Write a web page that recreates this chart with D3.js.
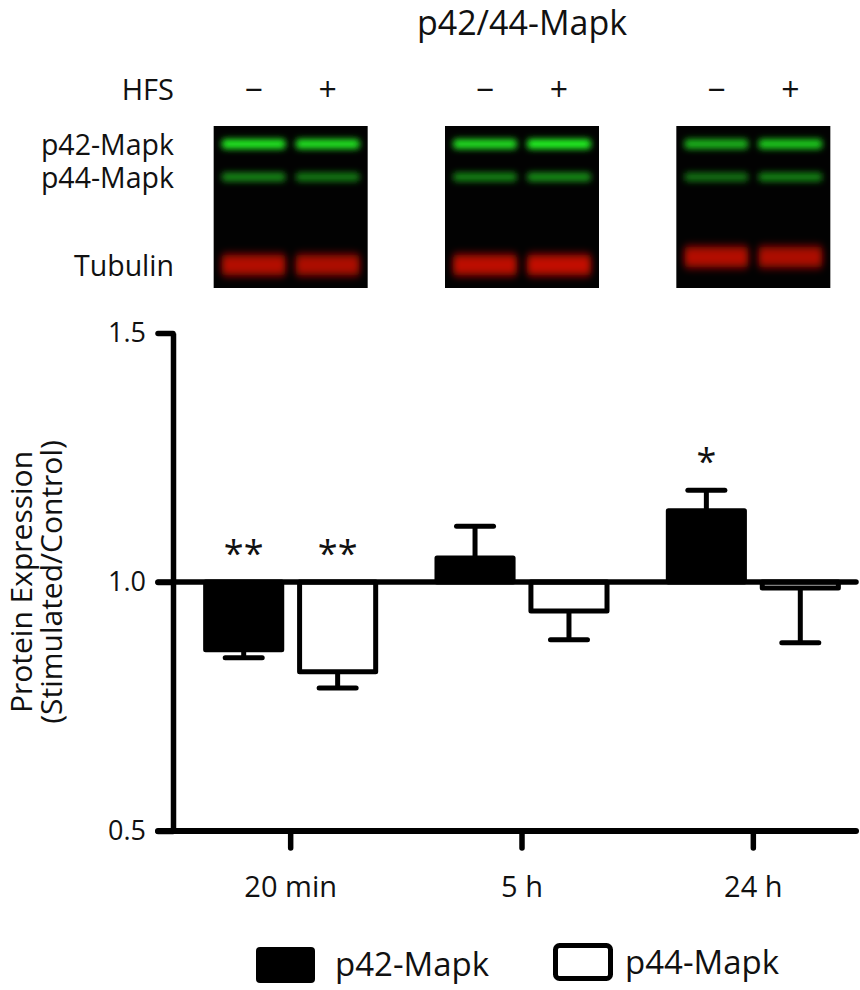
<!DOCTYPE html>
<html>
<head>
<meta charset="utf-8">
<script src="https://d3js.org/d3.v7.min.js"></script>
<style>
    body { margin: 0; background: #fff; }
    svg text { font-family: "Open Sans", sans-serif; fill: #111; }
</style>
</head>
<body>
<div id="chart"></div>
<script>

// ---- data ----
let timepoints = ["20 min", "5 h", "24 h"];
let series = ["p42-Mapk", "p44-Mapk"];
let p42Mean = [0.864, 1.048, 1.143];
let p42Sem = [0.016, 0.064, 0.041];
let p44Mean = [0.820, 0.942, 0.988];
let p44Sem = [0.033, 0.058, 0.110];
let p42Stars = ["**", "", "*"];
let p44Stars = ["**", "", ""];
let yTicks = [0.5, 1.0, 1.5];

// blot: HFS lanes and relative band intensities (lane order: 20min -, +, 5h -, +, 24h -, +)
let hfsLanes = ["\u2212", "+"];
let blotBands = ["p42-Mapk", "p44-Mapk", "Tubulin"];
let p42Band = [0.95, 0.92, 0.9, 1.0, 0.72, 0.82];
let p44Band = [0.62, 0.56, 0.6, 0.66, 0.52, 0.6];
let tubulinBand = [0.85, 0.82, 0.9, 0.92, 0.85, 0.82];


class BlotBarVis {

    constructor(parentElement) {
        this.parentElement = parentElement;
        this.initVis();
    }

    initVis() {
        let vis = this;

        vis.width = 860;
        vis.height = 990;

        vis.svg = d3.select("#" + vis.parentElement).append("svg")
                    .attr("width", vis.width)
                    .attr("height", vis.height);

        // soft edges for the blot bands
        vis.defs = vis.svg.append("defs");
        vis.defs.append("filter")
            .attr("id", "greenBlur")
            .attr("x", "-50%").attr("y", "-300%")
            .attr("width", "200%").attr("height", "700%")
            .append("feGaussianBlur")
            .attr("stdDeviation", "3 3");
        vis.defs.append("filter")
            .attr("id", "redBlur")
            .attr("x", "-50%").attr("y", "-200%")
            .attr("width", "200%").attr("height", "500%")
            .append("feGaussianBlur")
            .attr("stdDeviation", "3.5 4.5");

        // scales
        vis.x0 = d3.scaleBand()
                    .domain(timepoints)
                    .range([175, 869])
                    .paddingInner(0.265)
                    .paddingOuter(0.1325);

        vis.x1 = d3.scaleBand()
                    .domain(series)
                    .range([0, vis.x0.bandwidth()])
                    .paddingInner(0.19);

        vis.y = d3.scaleLinear()
                    .domain([0.5, 1.5])
                    .range([831, 333]);

        vis.color = d3.scaleOrdinal().domain(series).range(["#000", "#fff"]);

        // lanes inside each blot panel
        vis.lane = d3.scaleBand().domain(hfsLanes).range([-74, 74]);
        vis.bandY = d3.scaleOrdinal().domain(blotBands).range([144, 177, 265]);
        vis.bandColor = d3.scaleOrdinal().domain(blotBands).range(["#22f522", "#22d822", "#d20a04"]);
        vis.bandH = d3.scaleOrdinal().domain(blotBands).range([10, 9, 21]);
        vis.bandFilter = d3.scaleOrdinal().domain(blotBands).range(["greenBlur", "greenBlur", "redBlur"]);

        vis.wrangleData();
    }

    wrangleData() {
        let vis = this;

        vis.displayData = timepoints.map((t, i) => ({
            time: t,
            values: [
                {key: series[0], mean: p42Mean[i], sem: p42Sem[i], stars: p42Stars[i]},
                {key: series[1], mean: p44Mean[i], sem: p44Sem[i], stars: p44Stars[i]}
            ]
        }));

        let bandValues = [p42Band, p44Band, tubulinBand];
        vis.blotData = timepoints.map((t, i) => ({
            time: t,
            bands: hfsLanes.flatMap((l, j) => blotBands.map((b, k) => ({
                lane: l, band: b, value: bandValues[k][i * 2 + j]
            })))
        }));

        vis.updateVis();
    }

    updateVis() {
        let vis = this;

        // title + HFS row
        vis.svg.append("text")
            .attr("x", vis.x0(timepoints[1]) + vis.x0.bandwidth() / 2)
            .attr("y", 35)
            .attr("text-anchor", "middle")
            .style("font-size", "34px")
            .text("p42/44-Mapk");

        vis.svg.append("text")
            .attr("x", 174).attr("y", 100)
            .attr("text-anchor", "end")
            .style("font-size", "29px")
            .text("HFS");

        // blot panels
        let panels = vis.svg.selectAll(".blot")
                        .data(vis.blotData)
                        .enter().append("g")
                        .attr("class", "blot")
                        .attr("transform", d => `translate(${vis.x0(d.time) + vis.x0.bandwidth() / 2},0)`);

        panels.append("clipPath")
            .attr("id", (d, i) => "clip" + i)
            .append("rect")
            .attr("x", -77).attr("y", 126)
            .attr("width", 154).attr("height", 162);

        panels.append("rect")
            .attr("x", -77).attr("y", 126)
            .attr("width", 154).attr("height", 162)
            .attr("fill", "#020202");

        panels.selectAll(".sign")
            .data(hfsLanes)
            .enter().append("text")
            .attr("class", "sign")
            .attr("x", d => vis.lane(d) + vis.lane.bandwidth() / 2)
            .attr("y", 101)
            .attr("text-anchor", "middle")
            .style("font-size", "32px")
            .text(d => d);

        panels.append("g")
            .attr("clip-path", (d, i) => `url(#clip${i})`)
            .selectAll(".band")
            .data(d => d.bands.map(b => Object.assign({shift: d.time === "24 h" && b.band === "Tubulin" ? -8 : 0}, b)))
            .enter().append("rect")
            .attr("class", "band")
            .attr("x", d => vis.lane(d.lane) + vis.lane.bandwidth() / 2 - 32)
            .attr("y", d => vis.bandY(d.band) + d.shift - vis.bandH(d.band) / 2)
            .attr("width", 64)
            .attr("height", d => vis.bandH(d.band))
            .attr("rx", 4)
            .attr("fill", d => vis.bandColor(d.band))
            .attr("fill-opacity", d => d.value)
            .attr("filter", d => `url(#${vis.bandFilter(d.band)})`);

        vis.svg.selectAll(".blot-label")
            .data(blotBands)
            .enter().append("text")
            .attr("class", "blot-label")
            .attr("x", 174)
            .attr("y", d => vis.bandY(d) + 11)
            .attr("text-anchor", "end")
            .style("font-size", "28.5px")
            .text(d => d);

        // bars
        let groups = vis.svg.selectAll(".group")
                        .data(vis.displayData)
                        .enter().append("g")
                        .attr("class", "group")
                        .attr("transform", d => `translate(${vis.x0(d.time)},0)`);

        let cells = groups.selectAll(".cell")
                        .data(d => d.values)
                        .enter().append("g")
                        .attr("class", "cell")
                        .attr("transform", d => `translate(${vis.x1(d.key) + vis.x1.bandwidth() / 2},0)`);

        let errEnd = d => d.mean >= 1 ? d.mean + d.sem : d.mean - d.sem;

        cells.append("line")
            .attr("x1", 0).attr("x2", 0)
            .attr("y1", d => vis.y(d.mean))
            .attr("y2", d => vis.y(errEnd(d)))
            .attr("stroke", "#000").attr("stroke-width", 5);

        cells.append("line")
            .attr("x1", -18.5).attr("x2", 18.5)
            .attr("y1", d => vis.y(errEnd(d)))
            .attr("y2", d => vis.y(errEnd(d)))
            .attr("stroke", "#000").attr("stroke-width", 5)
            .attr("stroke-linecap", "round");

        cells.append("rect")
            .attr("x", -vis.x1.bandwidth() / 2)
            .attr("width", vis.x1.bandwidth())
            .attr("y", d => vis.y(Math.max(1, d.mean)))
            .attr("height", d => Math.abs(vis.y(d.mean) - vis.y(1)))
            .attr("fill", d => vis.color(d.key))
            .attr("stroke", "#000")
            .attr("stroke-width", 5)
            .attr("stroke-linejoin", "round");

        cells.append("text")
            .attr("x", 0)
            .attr("y", d => vis.y(Math.max(1, errEnd(d))) - 35 + 19)
            .attr("text-anchor", "middle")
            .style("font-size", "36px")
            .text(d => d.stars);

        // axes
        vis.yAxis = d3.axisLeft(vis.y)
                        .tickValues(yTicks)
                        .tickFormat(d3.format(".1f"))
                        .tickSize(15)
                        .tickSizeOuter(0)
                        .tickPadding(12);

        vis.yAxisGroup = vis.svg.append("g")
                            .attr("class", "y-axis")
                            .attr("transform", "translate(173,0)")
                            .call(vis.yAxis);

        vis.yAxisGroup.select(".domain").attr("stroke-width", 5.5);
        vis.yAxisGroup.selectAll(".tick line").attr("stroke-width", 5.5).attr("stroke-linecap", "round");
        vis.yAxisGroup.selectAll(".tick text")
            .style("font-size", "27px").style("font-family", "Open Sans").attr("fill", "#111");

        vis.xAxis = d3.axisBottom(vis.x0)
                        .tickSize(17)
                        .tickSizeOuter(0)
                        .tickPadding(28);

        vis.xAxisGroup = vis.svg.append("g")
                            .attr("class", "x-axis")
                            .attr("transform", "translate(0,831)")
                            .call(vis.xAxis);

        vis.xAxisGroup.select(".domain").remove();
        vis.xAxisGroup.selectAll(".tick line").attr("stroke-width", 5.5).attr("stroke-linecap", "round");
        vis.xAxisGroup.selectAll(".tick text")
            .style("font-size", "29px").style("font-family", "Open Sans").attr("fill", "#111");

        // x axis line and the 1.0 reference line
        vis.svg.selectAll(".hline")
            .data([0.5, 1.0])
            .enter().append("line")
            .attr("class", "hline")
            .attr("x1", 158).attr("x2", 856)
            .attr("y1", d => vis.y(d)).attr("y2", d => vis.y(d))
            .attr("stroke", "#000")
            .attr("stroke-width", d => d === 0.5 ? 6 : 5.5)
            .attr("stroke-linecap", "round");

        // y axis title
        vis.svg.append("text")
            .attr("transform", `translate(32,${vis.y(1)}) rotate(-90)`)
            .attr("text-anchor", "middle")
            .style("font-size", "30px")
            .text("Protein Expression");

        vis.svg.append("text")
            .attr("transform", `translate(62,${vis.y(1)}) rotate(-90)`)
            .attr("text-anchor", "middle")
            .style("font-size", "30px")
            .text("(Stimulated/Control)");

        // legend
        vis.legendX = d3.scaleOrdinal().domain(series).range([256, 553]);

        let legend = vis.svg.selectAll(".legend")
                        .data(series)
                        .enter().append("g")
                        .attr("class", "legend")
                        .attr("transform", d => `translate(${vis.legendX(d)},945)`);

        legend.append("rect")
            .attr("x", (d, i) => i ? 2.5 : 0)
            .attr("y", (d, i) => i ? 0.5 : 2)
            .attr("width", (d, i) => i ? 55 : 59)
            .attr("height", (d, i) => i ? 33 : 36)
            .attr("rx", 4)
            .attr("fill", d => vis.color(d))
            .attr("stroke", "#000")
            .attr("stroke-width", (d, i) => i ? 5 : 0);

        legend.append("text")
            .attr("x", (d, i) => i ? 72 : 79)
            .attr("y", (d, i) => i ? 29 : 31)
            .style("font-size", "33px")
            .text(d => d);
    }
}

let chart = new BlotBarVis("chart");

</script>
</body>
</html>
